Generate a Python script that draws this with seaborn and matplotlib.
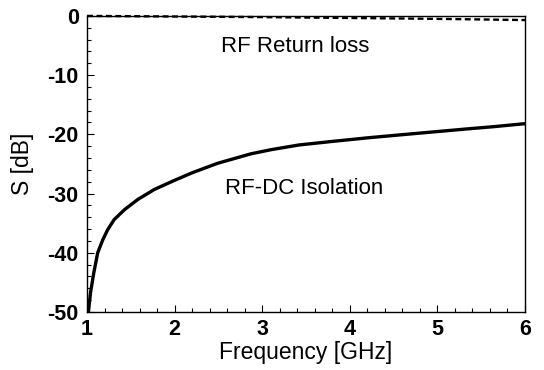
import pandas as pd
import matplotlib
matplotlib.use('Agg')
import matplotlib.pyplot as plt
import seaborn as sns
from matplotlib.ticker import MultipleLocator

# RF-DC isolation
iso_freq = [1.016, 1.039, 1.077, 1.122, 1.18, 1.236, 1.31, 1.43, 1.58, 1.77, 1.98,
            2.2, 2.49, 2.87, 3.1, 3.42, 3.8, 4.2, 4.57, 4.95, 5.33, 5.65, 6.0]
iso_db = [-50.0, -46.8, -43.4, -40.0, -37.8, -36.1, -34.4, -32.7, -31.0, -29.3, -27.9,
          -26.5, -24.9, -23.3, -22.6, -21.8, -21.2, -20.6, -20.1, -19.6, -19.1, -18.7, -18.2]

# RF return loss (dashed, just under 0 dB)
rl_freq = [1.0, 2.0, 3.0, 4.0, 5.0, 6.0]
rl_db = [0.0, -0.1, -0.2, -0.35, -0.5, -0.7]

df_iso = pd.DataFrame({'Frequency': iso_freq, 'S': iso_db})
df_rl = pd.DataFrame({'Frequency': rl_freq, 'S': rl_db})

sns.set_style('ticks')
plt.rcParams['font.family'] = ['Liberation Sans', 'DejaVu Sans']
plt.rcParams['axes.unicode_minus'] = False
plt.rcParams['text.color'] = 'black'
plt.rcParams['axes.labelcolor'] = 'black'
plt.rcParams['xtick.color'] = 'black'
plt.rcParams['ytick.color'] = 'black'

fig, ax = plt.subplots(figsize=(5.44, 3.70), dpi=100)
fig.subplots_adjust(left=0.16, right=0.965, top=0.957, bottom=0.157)

sns.lineplot(data=df_iso, x='Frequency', y='S', color='black', linewidth=2.4, ax=ax)
sns.lineplot(data=df_rl, x='Frequency', y='S', color='black', linewidth=1.7,
             linestyle=(0, (2.5, 1.5)), ax=ax, clip_on=False)

ax.set_xlim(1, 6)
ax.set_ylim(-50, 0)
ax.xaxis.set_major_locator(MultipleLocator(1))
ax.xaxis.set_minor_locator(MultipleLocator(0.2))
ax.yaxis.set_major_locator(MultipleLocator(10))
ax.yaxis.set_minor_locator(MultipleLocator(2))
ax.tick_params(which='both', direction='in', top=False, right=False, width=0.8)
ax.tick_params(which='major', length=5, labelsize=15.5)
ax.tick_params(which='minor', length=3)
for lbl in ax.get_xticklabels() + ax.get_yticklabels():
    lbl.set_fontweight('bold')
ax.tick_params(axis='x', pad=5)
ax.tick_params(axis='y', pad=6)

for sp in ax.spines.values():
    sp.set_color('black')
    sp.set_linewidth(1.0)

ax.set_xlabel('Frequency [GHz]', fontsize=16.5, labelpad=1)
ax.set_ylabel('S [dB]', fontsize=16.5, labelpad=10)

ax.text(3.38, -5.1, 'RF Return loss', fontsize=16, ha='center', va='center')
ax.text(3.48, -29.2, 'RF-DC Isolation', fontsize=16, ha='center', va='center')

fig.savefig('out.png', dpi=100)
